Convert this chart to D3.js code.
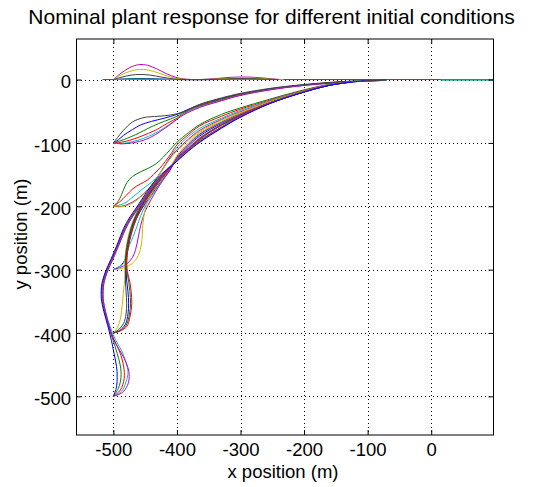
<!DOCTYPE html>
<html>
<head>
<meta charset="utf-8">
<script src="https://cdn.jsdelivr.net/npm/d3@7"></script>
<style>
  body { margin: 0; background: #fff; }
  svg { display: block; font-family: Arial, "Liberation Sans", Helvetica, sans-serif; }
</style>
</head>
<body>
<script>
// tick values (m)
const xTicks = [-500, -400, -300, -200, -100, 0];
const yTicks = [0, -100, -200, -300, -400, -500];

// MATLAB default colour order
const lineColors = { b: "#0000ff", g: "#008000", r: "#ff0000", c: "#00bfbf", m: "#bf00bf", y: "#bfbf00", k: "#404040" };

// trajectories from (-500, 0)
const fromY0 = [
  { c: "r", pts: [[-517, 0], [98, 0]] },
  { c: "b", pts: [[-500, 0], [-480, 1], [-460, 1.5], [-440, 1.2], [-415, 0.4], [-390, 0], [-340, 0], [-300, 0.6], [-260, 0.3], [-240, 0]] },
  { c: "g", pts: [[-500, 0], [-480, 0.6], [-460, 1], [-440, 0.7], [-410, 0.2], [-380, 0], [-330, 0.3], [-290, 0.5], [-250, 0]] },
  { c: "c", pts: [[-500, 0], [-470, 0.3], [-440, 0.4], [-400, 0], [-300, 0.3], [-250, 0]] },
  { c: "m", pts: [[-500, 0], [-488, 10], [-474, 19], [-460, 23.5], [-446, 22.5], [-432, 17], [-416, 9], [-400, 3], [-385, 0.5], [-365, 0], [-340, 1.5], [-315, 3.5], [-290, 4], [-265, 2.5], [-245, 0.5], [-230, 0]] },
  { c: "y", pts: [[-500, 0], [-488, 7], [-474, 13], [-460, 16], [-445, 15], [-428, 10], [-410, 4], [-395, 1], [-375, 0], [-345, 0.5], [-315, 2], [-290, 2.5], [-265, 1.5], [-245, 0.3], [-232, 0]] },
  { c: "k", pts: [[-500, 0], [-488, 3.5], [-472, 7], [-458, 8], [-442, 7], [-425, 4], [-405, 1], [-385, 0], [-350, 0], [-315, 1.2], [-290, 1.5], [-265, 0.8], [-240, 0]] },
  { c: "g", pts: [[15, -0.5], [98, -0.5]] },
  { c: "c", pts: [[15, -0.6], [98, -0.6]] }
];

// trajectories from (-500, -100)
const fromY100 = [
  { c: "b", pts: [[-500, -100], [-492, -95], [-484, -88], [-470, -79], [-458, -72], [-440, -66], [-420, -61], [-400, -55], [-380, -46], [-364, -40], [-330, -30], [-301, -23], [-254, -14.8], [-207, -9], [-144, -3.8], [-100, -2], [-72, -1.1]] },
  { c: "g", pts: [[-500, -100], [-490, -97], [-479, -93], [-465, -87], [-453, -81], [-437, -73], [-420, -66], [-400, -58], [-382, -48], [-364, -41], [-330, -31], [-301, -23.5], [-254, -15.2], [-207, -9.3], [-144, -4], [-100, -2.1], [-74, -1.2]] },
  { c: "r", pts: [[-500, -100], [-488, -99], [-475, -96], [-460, -91], [-445, -85], [-430, -78], [-415, -69], [-400, -61], [-385, -51], [-364, -42], [-330, -32], [-301, -24.2], [-254, -15.7], [-207, -9.7], [-144, -4.3], [-100, -2.3], [-76, -1.3]] },
  { c: "c", pts: [[-500, -100], [-488, -101], [-470, -98], [-453, -93], [-437, -86], [-421, -77], [-405, -66], [-390, -55], [-375, -47], [-364, -43], [-330, -33], [-301, -25], [-254, -16.2], [-207, -10], [-144, -4.6], [-100, -2.5], [-70, -1.4]] },
  { c: "m", pts: [[-500, -100], [-486, -101.5], [-468, -99.5], [-450, -95], [-434, -87], [-419, -77], [-404, -66], [-390, -56], [-364, -44], [-330, -33.5], [-301, -25.3], [-254, -16.4], [-207, -10.1], [-144, -4.7], [-100, -2.5], [-78, -1.5]] },
  { c: "k", pts: [[-500, -100], [-493, -91], [-484, -80], [-470, -67], [-452, -60], [-430, -58], [-410, -56], [-390, -51], [-364, -39], [-330, -29], [-301, -22], [-254, -14], [-207, -8.5], [-144, -3.5], [-100, -1.8], [-70, -1]] }
];

// trajectories from (-500, -200)
const fromY200 = [
  { c: "g", pts: [[-500, -200], [-494, -194], [-490, -188], [-484, -174], [-479, -163], [-470, -153], [-458, -146], [-445, -140], [-433, -133], [-421, -122], [-411, -111], [-400, -99], [-382, -84], [-364, -71], [-330, -55], [-301, -45], [-254, -31], [-207, -18], [-160, -7.5], [-125, -3], [-105, -2]] },
  { c: "r", pts: [[-500, -200], [-490, -193], [-480, -183], [-469, -172], [-458, -165], [-447, -159], [-437, -150], [-427, -140], [-418, -129], [-408, -115], [-400, -103], [-382, -87], [-364, -73], [-330, -58], [-301, -47], [-254, -32.5], [-207, -19], [-160, -8], [-125, -3.2], [-105, -2.1]] },
  { c: "c", pts: [[-500, -200], [-484, -196], [-469, -185], [-453, -172], [-440, -162], [-428, -150], [-418, -135], [-408, -118], [-400, -107], [-382, -90], [-364, -77], [-330, -61], [-301, -49], [-254, -33.5], [-207, -19.5], [-160, -8.2], [-125, -3.3], [-105, -2.2]] },
  { c: "m", pts: [[-500, -200], [-487, -200], [-475, -196], [-463, -189], [-451, -179], [-440, -167], [-430, -153], [-420, -137], [-410, -122], [-400, -111], [-382, -94], [-364, -80], [-330, -63], [-301, -51], [-254, -34.5], [-207, -20], [-160, -8.4], [-125, -3.4]] },
  { c: "y", pts: [[-500, -200], [-490, -201], [-479, -199], [-468, -194], [-458, -186], [-447, -176], [-437, -164], [-428, -150], [-418, -135], [-408, -122], [-400, -113], [-382, -96], [-364, -82], [-330, -64], [-301, -52], [-254, -35], [-207, -20.3], [-160, -8.5], [-125, -3.4], [-108, -2.3]] }
];

// trajectories from (-500, -300)
const fromY300 = [
  { c: "b", pts: [[-500, -300], [-489, -294], [-481, -283], [-477, -268], [-474, -250], [-468, -230], [-460, -212], [-450, -196], [-438, -179], [-425, -161], [-412, -145], [-400, -125], [-382, -105], [-364, -89], [-330, -69], [-301, -55.5], [-254, -36.2], [-207, -21], [-160, -8.8], [-125, -3.6]] },
  { c: "c", pts: [[-500, -300], [-492, -296], [-484, -290], [-479, -274], [-474, -260], [-469, -248], [-463, -232], [-457, -215], [-450, -200], [-440, -184], [-428, -166], [-415, -146], [-400, -123], [-382, -103], [-364, -87], [-330, -68], [-301, -55], [-254, -36], [-207, -20.8], [-160, -8.7], [-125, -3.6], [-108, -2.4]] },
  { c: "m", pts: [[-500, -300], [-490, -297], [-479, -291], [-470, -281], [-465, -268], [-461, -250], [-457, -230], [-450, -208], [-441, -190], [-428, -168], [-414, -147], [-400, -122], [-382, -102], [-364, -86], [-330, -67], [-301, -54], [-254, -35.5], [-207, -20.6], [-160, -8.6], [-125, -3.5]] },
  { c: "y", pts: [[-500, -300], [-490, -299], [-476, -294], [-465, -285], [-458, -270], [-455, -252], [-454, -235], [-452, -215], [-447, -195], [-438, -177], [-425, -158], [-410, -138], [-400, -120], [-382, -100], [-364, -84], [-330, -66], [-301, -53], [-254, -35], [-207, -20.5], [-160, -8.6], [-125, -3.5], [-110, -2.4]] }
];

// trajectories from (-500, -400)
const fromY400 = [
  { c: "b", pts: [[-500, -400], [-490, -396], [-481, -386], [-477, -370], [-476, -353], [-477, -335], [-479, -318], [-480, -301], [-480, -285], [-478, -265], [-474, -245], [-468, -225], [-460, -207], [-450, -190], [-435, -168], [-416, -144], [-400, -127], [-382, -110], [-364, -94], [-330, -72], [-301, -57.5], [-254, -37], [-207, -21.4], [-160, -9], [-125, -3.8], [-108, -2.5]] },
  { c: "g", pts: [[-500, -400], [-490, -397], [-480, -388], [-475, -372], [-473, -353], [-474, -335], [-476, -318], [-479, -301], [-479, -285], [-477, -265], [-473, -245], [-467, -225], [-459, -207], [-449, -190], [-434, -168], [-415, -144], [-400, -126], [-382, -109], [-364, -93], [-330, -71.5], [-301, -57], [-254, -36.8], [-207, -21.3], [-160, -9], [-125, -3.7]] },
  { c: "r", pts: [[-500, -400], [-490, -397], [-479, -390], [-474, -375], [-471, -353], [-472, -335], [-474, -320], [-478, -303], [-479, -288], [-477, -266], [-472, -245], [-466, -225], [-458, -207], [-448, -190], [-433, -168], [-414, -144], [-400, -125], [-382, -108], [-364, -92], [-330, -71], [-301, -56.5], [-254, -36.6], [-207, -21.2], [-160, -8.9], [-125, -3.7]] },
  { c: "y", pts: [[-500, -400], [-494, -392], [-489, -378], [-487, -364], [-485, -345], [-484, -332], [-482, -315], [-482, -301], [-482, -285], [-480, -265], [-476, -245], [-470, -225], [-462, -207], [-452, -190], [-437, -168], [-418, -144], [-400, -127], [-382, -110], [-364, -94], [-330, -72.5], [-301, -58], [-254, -37.3], [-207, -21.5], [-160, -9.1], [-125, -3.8], [-110, -2.5]] },
  { c: "k", pts: [[-500, -400], [-492, -395], [-484, -385], [-480, -370], [-479, -353], [-480, -335], [-481, -318], [-481, -301], [-481, -285], [-479, -265], [-475, -245], [-469, -225], [-461, -207], [-451, -190], [-436, -168], [-417, -144], [-400, -127], [-382, -110], [-364, -94], [-330, -72], [-301, -57.8], [-254, -37.2], [-207, -21.5], [-160, -9], [-125, -3.8]] }
];

// trajectories from (-500, -500)
const fromY500 = [
  { c: "g", pts: [[-500, -500], [-492, -487], [-488, -470], [-489, -452], [-494, -432], [-501, -410], [-508, -388], [-514, -366], [-518, -345], [-517, -322], [-511, -302], [-503, -284], [-492, -258], [-483, -236], [-473, -218], [-462, -202], [-447, -179], [-431, -158], [-415, -142], [-400, -128], [-382, -112], [-364, -98], [-330, -76], [-301, -59.5], [-254, -37.8], [-207, -21.8], [-160, -9.1], [-125, -3.9]] },
  { c: "r", pts: [[-500, -500], [-489, -490], [-483, -472], [-484, -452], [-490, -430], [-500, -408], [-507, -388], [-513, -366], [-517, -345], [-516, -322], [-510, -302], [-502, -284], [-491, -258], [-482, -236], [-472, -218], [-461, -202], [-446, -179], [-430, -158], [-414, -142], [-400, -127], [-382, -111], [-364, -97], [-330, -75.5], [-301, -59], [-254, -37.6], [-207, -21.7], [-160, -9], [-125, -3.9]] },
  { c: "c", pts: [[-500, -500], [-487, -492], [-480, -477], [-477, -462], [-480, -447], [-487, -428], [-497, -410], [-505, -390], [-512, -367], [-516, -345], [-515, -322], [-509, -302], [-501, -284], [-490, -258], [-481, -236], [-471, -218], [-460, -202], [-445, -179], [-429, -158], [-413, -142], [-400, -126.5], [-382, -110.5], [-364, -96.5], [-330, -75], [-301, -58.8], [-254, -37.5], [-207, -21.6], [-160, -9], [-125, -3.8]] },
  { c: "m", pts: [[-500, -500], [-486, -494], [-478, -483], [-475, -469], [-477, -455], [-483, -440], [-492, -424], [-500, -410], [-506, -392], [-512, -368], [-516, -346], [-515, -322], [-509, -302], [-501, -284], [-490, -258], [-481, -236], [-471, -218], [-460, -202], [-445, -179], [-429, -158], [-413, -142], [-400, -126], [-382, -110], [-364, -96], [-330, -75], [-301, -58.5], [-254, -37.4], [-207, -21.5], [-160, -9], [-125, -3.8]] },
  { c: "b", pts: [[-500, -500], [-495, -485], [-494, -469], [-495, -453], [-499, -432], [-503, -412], [-509, -388], [-515, -366], [-519, -345], [-518, -322], [-512, -302], [-504, -284], [-493, -258], [-484, -235], [-474, -217], [-463, -201], [-448, -178], [-432, -157], [-416, -142], [-400, -129], [-382, -113], [-364, -99], [-330, -77], [-301, -60], [-254, -38], [-207, -22], [-160, -9.2], [-125, -4], [-105, -1.8]] }
];

const families = [fromY0, fromY100, fromY200, fromY300, fromY400, fromY500];

const width = 540, height = 487;
const margin = { top: 39, right: 46.5, bottom: 52, left: 76.5 };
const innerW = width - margin.left - margin.right;
const innerH = height - margin.top - margin.bottom;

const x = d3.scaleLinear().domain([-558, 98]).range([margin.left, margin.left + innerW]);
const y = d3.scaleLinear().domain([-561, 64]).range([margin.top + innerH, margin.top]);

const svg = d3.select("body").append("svg")
    .attr("width", width)
    .attr("height", height);

svg.append("defs").append("clipPath").attr("id", "plotArea")
  .append("rect")
    .attr("x", margin.left).attr("y", margin.top)
    .attr("width", innerW).attr("height", innerH);

// dotted grid
const grid = svg.append("g")
    .attr("stroke", "#000")
    .attr("stroke-width", 1)
    .attr("stroke-dasharray", "1,3")
    .attr("shape-rendering", "crispEdges");

grid.selectAll("line.gx")
  .data(xTicks)
  .join("line")
    .attr("class", "gx")
    .attr("x1", d => Math.round(x(d)) + 0.5).attr("x2", d => Math.round(x(d)) + 0.5)
    .attr("y1", margin.top).attr("y2", margin.top + innerH);

grid.selectAll("line.gy")
  .data(yTicks)
  .join("line")
    .attr("class", "gy")
    .attr("y1", d => Math.round(y(d)) + 0.5).attr("y2", d => Math.round(y(d)) + 0.5)
    .attr("x1", margin.left).attr("x2", margin.left + innerW);

// trajectories
const line = d3.line()
    .x(d => x(d[0]))
    .y(d => y(d[1]))
    .curve(d3.curveCatmullRom.alpha(0.5));

const plot = svg.append("g")
    .attr("clip-path", "url(#plotArea)")
    .attr("fill", "none")
    .attr("stroke-width", 1);

families.forEach(fam => {
  plot.append("g")
    .selectAll("path")
    .data(fam)
    .join("path")
      .attr("stroke", d => lineColors[d.c])
      .attr("d", d => line(d.pts));
});

// axes: labels plus inward ticks on all four sides
const tickLen = 5;
const plainFmt = d => String(d); // ascii hyphen, like the original

svg.append("g")
    .attr("transform", `translate(0,${margin.top + innerH})`)
    .call(d3.axisBottom(x).tickValues(xTicks).tickSize(-tickLen).tickPadding(8).tickFormat(plainFmt))
    .call(g => g.select(".domain").remove())
    .call(g => g.selectAll("text").attr("font-size", 18.5).attr("fill", "#000").attr("font-family", null));

svg.append("g")
    .attr("transform", `translate(0,${margin.top})`)
    .call(d3.axisTop(x).tickValues(xTicks).tickSize(-tickLen).tickFormat(""))
    .call(g => g.select(".domain").remove());

svg.append("g")
    .attr("transform", `translate(${margin.left},0)`)
    .call(d3.axisLeft(y).tickValues(yTicks).tickSize(-tickLen).tickPadding(5.5).tickFormat(plainFmt))
    .call(g => g.select(".domain").remove())
    .call(g => g.selectAll("text").attr("font-size", 18.5).attr("fill", "#000").attr("font-family", null).attr("dy", "0.45em"));

svg.append("g")
    .attr("transform", `translate(${margin.left + innerW},0)`)
    .call(d3.axisRight(y).tickValues(yTicks).tickSize(-tickLen).tickFormat(""))
    .call(g => g.select(".domain").remove());

svg.selectAll(".tick line").attr("stroke", "#000");

// box
svg.append("rect")
    .attr("x", margin.left).attr("y", margin.top)
    .attr("width", innerW).attr("height", innerH)
    .attr("fill", "none")
    .attr("stroke", "#000")
    .attr("stroke-width", 1);

// titles
svg.append("text")
    .attr("x", 271.5).attr("y", 24)
    .attr("text-anchor", "middle")
    .attr("font-size", 21)
    .text("Nominal plant response for different initial conditions");

svg.append("text")
    .attr("x", margin.left + innerW / 2 - 2).attr("y", 478)
    .attr("text-anchor", "middle")
    .attr("font-size", 18.5)
    .text("x position (m)");

svg.append("text")
    .attr("transform", `translate(27,234) rotate(-90)`)
    .attr("text-anchor", "middle")
    .attr("font-size", 18.5)
    .text("y position (m)");
</script>
</body>
</html>
